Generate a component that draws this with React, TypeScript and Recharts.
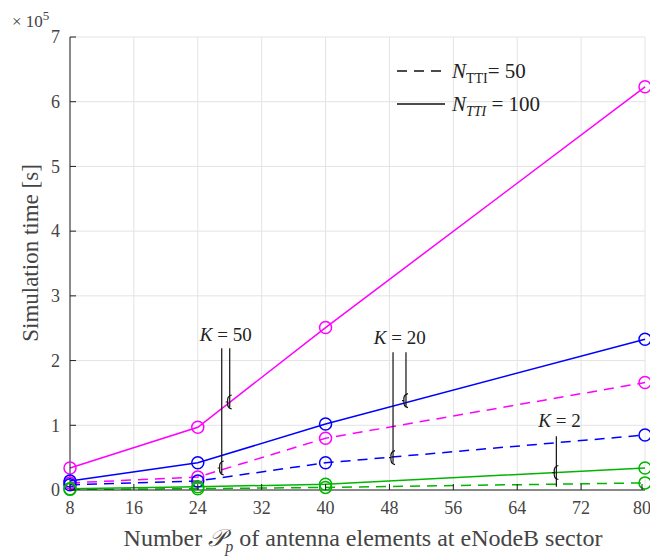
import {
  LineChart, Line, XAxis, YAxis, CartesianGrid, ReferenceLine, ReferenceDot,
} from "recharts";

// antenna element counts (x positions of the measured points)
const ELEMENTS = [8, 24, 40, 80];
const X_TICKS = [8, 16, 24, 32, 40, 48, 56, 64, 72, 80];
const Y_TICKS = [0, 1, 2, 3, 4, 5, 6, 7];

// simulation time in units of 1e5 s
const K50_TTI100 = [0.34, 0.97, 2.51, 6.23];
const K50_TTI50 = [0.11, 0.2, 0.8, 1.66];
const K20_TTI100 = [0.14, 0.42, 1.02, 2.33];
const K20_TTI50 = [0.08, 0.14, 0.42, 0.85];
const K2_TTI100 = [0.02, 0.05, 0.09, 0.34];
const K2_TTI50 = [0.01, 0.02, 0.04, 0.11];

const data = ELEMENTS.map((p, i) => ({
  p,
  k50a: K50_TTI100[i], k50b: K50_TTI50[i],
  k20a: K20_TTI100[i], k20b: K20_TTI50[i],
  k2a: K2_TTI100[i], k2b: K2_TTI50[i],
}));

const MAGENTA = "#ff00ff";
const BLUE = "#0000ff";
const GREEN = "#00b400";

const series = [
  { key: "k50a", color: MAGENTA, dashed: false },
  { key: "k50b", color: MAGENTA, dashed: true },
  { key: "k20a", color: BLUE, dashed: false },
  { key: "k20b", color: BLUE, dashed: true },
  { key: "k2a", color: GREEN, dashed: false },
  { key: "k2b", color: GREEN, dashed: true },
];

// bracket annotations: label, leader lines (x, top, bottom) and brace points
const brackets = [
  { label: "50", tx: 27.5, ty: 2.3, lines: [[27, 2.19, 0.26], [28, 2.19, 1.28]], braces: [[27, 0.34], [28, 1.36]] },
  { label: "20", tx: 49.3, ty: 2.25, lines: [[48.45, 2.13, 0.42], [50.07, 2.13, 1.28]], braces: [[48.45, 0.5], [50.07, 1.38]] },
  { label: "2", tx: 69.3, ty: 0.98, lines: [[68.9, 0.83, 0.05]], braces: [[68.9, 0.27]] },
];

const FONT = "'Liberation Serif', 'Times New Roman', serif";
const TEXT = "#444";
const TICK_GAP = 10;

const XTick = ({ x, y, payload }: any) => (
  <g>
    <line x1={x} x2={x} y1={y - TICK_GAP} y2={y - TICK_GAP - 6} stroke="#222" />
    <text x={x} y={y} dy="0.8em" textAnchor="middle" style={{ fontFamily: FONT }} fontSize={18} fill={TEXT}>
      {payload.value}
    </text>
  </g>
);

const YTick = ({ x, y, payload }: any) => (
  <g>
    <line x1={x + TICK_GAP} x2={x + TICK_GAP + 6} y1={y} y2={y} stroke="#222" />
    <text x={x} y={y} dy="0.35em" textAnchor="end" style={{ fontFamily: FONT }} fontSize={18} fill={TEXT}>
      {payload.value}
    </text>
  </g>
);

const Brace = ({ cx, cy }: any) => (
  <path
    d={`M ${cx + 2} ${cy - 7} Q ${cx - 3} ${cy - 6} ${cx - 2} ${cy} Q ${cx - 3} ${cy + 6} ${cx + 2} ${cy + 7} M ${cx - 2} ${cy} L ${cx - 4} ${cy}`}
    fill="none" stroke="#111" strokeWidth={1.2}
  />
);

const KLabel = (label: string) => ({ cx, cy }: any) => (
  <text x={cx} y={cy} textAnchor="middle" style={{ fontFamily: FONT }} fontSize={19} fill="#222">
    <tspan fontStyle="italic">K</tspan> = {label}
  </text>
);

// line-style key for the two TTI counts
const StyleKey = () => (
  <svg width={180} height={70} style={{ position: "absolute", left: 390, top: 50 }}>
    <line x1={7} x2={55} y1={21} y2={21} stroke="#111" strokeWidth={1.5} strokeDasharray="10 7" />
    <text x={62} y={28} style={{ fontFamily: FONT }} fontSize={21} fill="#222">
      <tspan fontStyle="italic">N</tspan>
      <tspan fontSize={14} dy={5}>TTI</tspan>
      <tspan dy={-5}>= 50</tspan>
    </text>
    <line x1={7} x2={55} y1={54} y2={54} stroke="#111" strokeWidth={1.5} />
    <text x={62} y={61} style={{ fontFamily: FONT }} fontSize={21} fill="#222">
      <tspan fontStyle="italic">N</tspan>
      <tspan fontSize={14} dy={5} fontStyle="italic">TTI</tspan>
      <tspan dy={-5}> = 100</tspan>
    </text>
  </svg>
);

export default function App() {
  return (
    <div style={{ position: "absolute", left: 0, top: 0, width: 650, height: 559, background: "#fff" }}>
      <LineChart width={650} height={559} data={data} margin={{ top: 37, right: 5, bottom: 9, left: 0 }}>
        <CartesianGrid stroke="#e3e3e3" strokeWidth={1} />
        <XAxis
          dataKey="p" type="number" domain={[8, 80]} ticks={X_TICKS} height={60}
          stroke="#222" tickSize={0} tickMargin={TICK_GAP} tickLine={false} tick={<XTick />}
        />
        <YAxis
          type="number" domain={[0, 7]} ticks={Y_TICKS} width={70}
          stroke="#222" tickSize={0} tickMargin={TICK_GAP} tickLine={false} tick={<YTick />}
        />
        {series.map((s) => (
          <Line
            key={s.key} dataKey={s.key} type="linear" stroke={s.color} strokeWidth={1.5}
            strokeDasharray={s.dashed ? "10 7" : undefined}
            dot={{ r: 6, fill: "none", stroke: s.color, strokeWidth: 1.5, strokeDasharray: "" }}
            activeDot={false} isAnimationActive={false}
          />
        ))}
        {brackets.map((b) =>
          b.lines.map(([x, top, bottom], i) => (
            <ReferenceLine
              key={`${b.label}-l${i}`}
              segment={[{ x, y: top }, { x, y: bottom }]}
              stroke="#111" strokeWidth={1.2}
            />
          )),
        )}
        {brackets.map((b) =>
          b.braces.map(([x, y], i) => (
            <ReferenceDot key={`${b.label}-b${i}`} x={x} y={y} r={0} shape={<Brace />} />
          )),
        )}
        {brackets.map((b) => (
          <ReferenceDot key={`${b.label}-t`} x={b.tx} y={b.ty} r={0} shape={KLabel(b.label)} />
        ))}
      </LineChart>
      <StyleKey />
      <div style={{ position: "absolute", left: 12, top: 8, fontFamily: FONT, fontSize: 17, color: TEXT }}>
        × 10<sup style={{ fontSize: 13 }}>5</sup>
      </div>
      <div
        style={{
          position: "absolute", left: 31, top: 253, transform: "translate(-50%, -50%) rotate(-90deg)",
          whiteSpace: "nowrap", fontFamily: FONT, fontSize: 23, color: TEXT,
        }}
      >
        Simulation time [s]
      </div>
      <div
        style={{
          position: "absolute", left: 363, top: 540, transform: "translate(-50%, -50%)",
          whiteSpace: "nowrap", fontFamily: FONT, fontSize: 24, color: TEXT,
        }}
      >
        Number <span style={{ fontFamily: "'DejaVu Serif', serif", fontStyle: "italic" }}>𝒫</span>
        <sub style={{ fontStyle: "italic", fontSize: 16 }}>p</sub> of antenna elements at eNodeB sector
      </div>
    </div>
  );
}
